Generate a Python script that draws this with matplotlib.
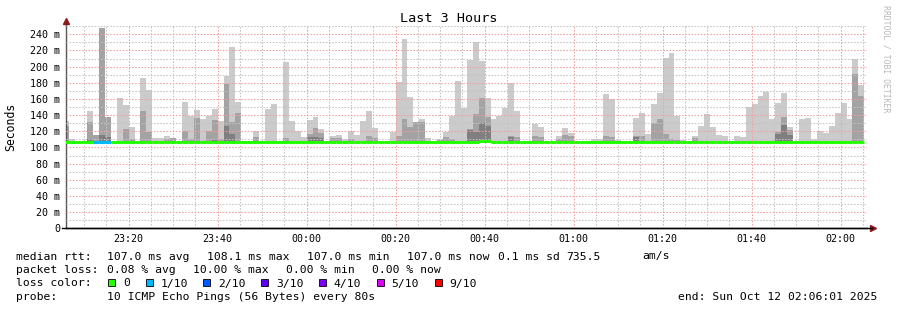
import numpy as np
import matplotlib
matplotlib.use('Agg')
import matplotlib.pyplot as plt
from matplotlib.patches import Rectangle

plt.rcParams['font.family'] = 'DejaVu Sans Mono'

# smokeping data, one value per 80 s step (ms), starting 23:06:01
light = [133, 110.5, 107, 107, 145, 115.5, 248, 137.3, 107, 161,
         152.6, 125.4, 107, 186, 171, 111.7, 111.7, 114, 111.7, 107,
         156, 139, 146.4, 135, 139, 147.6, 132.8, 188.5, 224.3, 156,
         107, 107, 120.4, 107, 147.6, 153.8, 107, 205.8, 132.8, 120.4,
         113, 134, 137.7, 123, 107, 114, 115.5, 110.5, 120.4, 115.5,
         132.8, 145, 124, 107, 107, 119.2, 181, 234.2, 162.5, 131.5,
         135, 111.7, 107, 110.5, 119.2, 139, 182.3, 149, 208, 230.5,
         207, 161.2, 135.3, 139, 148.9, 179.8, 145, 107, 107, 129,
         125.4, 107, 107, 114, 124, 118, 107, 107, 107, 110,
         110, 166.2, 160, 109, 107, 107, 136.5, 142.7, 116.7, 153.8,
         167.4, 210.7, 216.9, 139, 109, 107, 114, 126.6, 141.4, 125.4,
         115.5, 114, 107, 114, 113, 150, 153.8, 163.7, 168.7, 135.3,
         155, 167.4, 125.4, 107, 135.3, 136.5, 110.5, 120.4, 118, 126.6,
         142.7, 155, 135.3, 209.5, 177.3]
mid = [127, 108, 107, 107, 131.5, 115.5, 248, 137.3, 107, 107,
       123, 110, 107, 145, 119, 107, 107, 110, 111.7, 107,
       120, 110, 136, 107, 120, 134, 110, 179, 131.5, 142.7,
       107, 107, 113, 107, 107, 107, 107, 111.7, 107, 107,
       107, 116.7, 124, 118, 107, 111.7, 111.7, 107, 110, 107,
       107, 114, 111.7, 107, 107, 107, 114, 135.3, 125.4, 131.5,
       131.5, 107, 107, 109, 113, 110, 107, 107, 123, 141.4,
       161.2, 137.7, 107, 107, 107, 114, 113, 107, 107, 114,
       113, 107, 107, 111, 115.5, 114, 107, 107, 107, 107,
       107, 114, 113, 107, 107, 107, 114, 114, 107, 130.3,
       135.3, 116.7, 110.5, 109, 107, 107, 111.7, 108, 108, 107,
       107, 107, 107, 107, 107, 107, 107, 107, 107, 107,
       119.2, 137.7, 122, 107, 107, 107, 107, 107, 107, 107,
       107, 107, 107, 191, 163.7]
dark = [107, 107, 107, 107, 111, 107, 115, 113, 107, 107,
        107, 107, 107, 107, 107, 107, 107, 107, 107, 107,
        107, 107, 107, 107, 107, 109, 107, 126.6, 116.7, 107,
        107, 107, 107, 107, 107, 107, 107, 107, 107, 107,
        107, 113, 113, 111.7, 107, 107, 107, 107, 107, 107,
        107, 107, 107, 107, 107, 107, 107, 107, 107, 107,
        107, 107, 107, 107, 107, 107, 107, 107, 121.6, 119.2,
        130.3, 126.6, 107, 107, 107, 113, 107, 107, 107, 107,
        107, 107, 107, 107, 107, 107, 107, 107, 107, 107,
        107, 107, 107, 107, 107, 107, 113, 107, 107, 107,
        107, 107, 107, 107, 107, 107, 107, 107, 107, 107,
        107, 107, 107, 107, 107, 107, 107, 107, 107, 107,
        116.7, 127.8, 115.5, 107, 107, 107, 107, 107, 107, 107,
        107, 107, 107, 107, 107]
median = [107.0, 107.0, 107.0, 107.0, 107.0, 107.0, 107.0, 107.0, 107.0, 107.0,
          107.0, 107.0, 107.0, 107.0, 107.0, 107.0, 107.0, 107.0, 107.0, 107.0,
          107.0, 107.0, 107.0, 107.0, 107.0, 107.0, 107.0, 107.0, 107.0, 107.0,
          107.0, 107.0, 107.0, 107.0, 107.0, 107.0, 107.0, 107.0, 107.0, 107.0,
          107.0, 107.0, 107.0, 107.0, 107.0, 107.0, 107.0, 107.0, 107.0, 107.0,
          107.0, 107.0, 107.0, 107.0, 107.0, 107.0, 107.0, 107.0, 107.0, 107.0,
          107.0, 107.0, 107.0, 107.0, 107.0, 107.0, 107.0, 107.0, 107.0, 107.0,
          108.1, 108.1, 107.0, 107.0, 107.0, 107.0, 107.0, 107.0, 107.0, 107.0,
          107.0, 107.0, 107.0, 107.0, 107.0, 107.0, 107.0, 107.0, 107.0, 107.0,
          107.0, 107.0, 107.0, 107.0, 107.0, 107.0, 107.0, 107.0, 107.0, 107.0,
          107.0, 107.0, 107.0, 107.0, 107.0, 107.0, 107.0, 107.0, 107.0, 107.0,
          107.0, 107.0, 107.0, 107.0, 107.0, 107.0, 107.0, 107.0, 107.0, 107.0,
          107.0, 107.0, 107.0, 107.0, 107.0, 107.0, 107.0, 107.0, 107.0, 107.0,
          107.0, 107.0, 107.0, 107.0, 107.0]
loss = [0, 0, 0, 0, 0, 1, 1, 1] + [0] * 127

time_labels = ['23:20', '23:40', '00:00', '00:20', '00:40', '01:00', '01:20', '01:40', '02:00']
loss_labels = ['0', '1/10', '2/10', '3/10', '4/10', '5/10', '9/10']
loss_colors = ['#26ff00', '#00b8ff', '#0059ff', '#5e00ff', '#7e00ff', '#dd00ff', '#ff0000']
loss_index = [0, 1, 2, 3, 4, 5, 9]

rtt_stats = ['median rtt:', '107.0 ms avg', '108.1 ms max', '107.0 ms min',
             '107.0 ms now', '0.1 ms sd', '735.5', 'am/s']
pl_stats = ['packet loss:', '0.08 % avg', '10.00 % max', '0.00 % min', '0.00 % now']
probe_text = '10 ICMP Echo Pings (56 Bytes) every 80s'
end_text = 'end: Sun Oct 12 02:06:01 2025'

W, H = 897, 310
def fx(px):
    return px / W
def fy(py):
    return 1 - py / H

step = 80 / 60.
t0 = 6 + 1 / 60.          # minutes after 23:00
centers = t0 + np.arange(len(light)) * step

fig = plt.figure(figsize=(W / 100, H / 100), dpi=100)
ax = fig.add_axes([fx(66.3), fy(228.3), 801 / W, 202.1 / H])

# smoke
for vals, col in ((light, '#cbcbcb'), (mid, '#a3a3a3'), (dark, '#7f7f7f')):
    v = np.array(vals)
    ax.bar(centers, v - 106, bottom=106, width=step, color=col,
           linewidth=0, align='center', zorder=1)

# median line coloured by loss
cmap = dict(zip(loss_index, loss_colors))
ax.hlines(median, centers - step / 2, centers + step / 2,
          colors=[cmap[l] for l in loss], linewidth=2.2, zorder=4)

ax.set_xlim(t0, t0 + 180)
ax.set_ylim(0, 250)

maj_x = np.arange(20, 181, 20)
ax.set_xticks(maj_x)
ax.set_xticklabels(time_labels)
ax.set_xticks([m for m in np.arange(10, 186, 5) if m % 20 != 0], minor=True)
ax.set_yticks(np.arange(0, 241, 20))
ax.set_yticklabels(['0'] + ['%d m' % v for v in range(20, 241, 20)])
ax.set_yticks(np.arange(10, 251, 20), minor=True)

ax.set_axisbelow(False)
ax.grid(True, which='major', color='#f0a0a0', linestyle=(0, (1.5, 1.5)), linewidth=0.75)
ax.grid(True, which='minor', color='#c4c4c4', linestyle=(0, (1.5, 1.5)), linewidth=0.75)
ax.tick_params(which='both', length=0, labelsize=7.2)
ax.tick_params(axis='y', pad=4.5)
ax.tick_params(axis='x', pad=4)

for s in ('top', 'right'):
    ax.spines[s].set_visible(False)
ax.spines['left'].set_color('#555555')
ax.spines['left'].set_linewidth(1)
ax.spines['bottom'].set_color('black')
ax.spines['bottom'].set_linewidth(1)

# axis extensions + arrows
ax.plot([t0, t0], [250, 255], color='#555555', lw=1, clip_on=False)
ax.plot([t0 - 0.9, t0 + 181], [0, 0], color='black', lw=1, clip_on=False, zorder=5)
ax.plot([t0], [256], marker='^', color='#8b1a1a', markersize=4.5, clip_on=False)
ax.plot([t0 + 181.2], [0], marker='>', color='#8b1a1a', markersize=4.5, clip_on=False)

fig.text(fx(449), fy(19), 'Last 3 Hours', ha='center', va='center', fontsize=9.7)
fig.text(fx(11), fy(127), 'Seconds', rotation=90, ha='center', va='center', fontsize=8.3)
fig.text(fx(886), fy(5), 'RRDTOOL / TOBI OETIKER', rotation=-90, ha='center', va='top',
         fontsize=5.9, color='#b8b8b8')

lf = 8.2
for x, s in zip([16, 107.3, 207.3, 307.3, 407.3, 498, 566, 642.7], rtt_stats):
    fig.text(fx(x), fy(259.5), s, ha='left', va='baseline', fontsize=lf)
for x, s in zip([16, 107.3, 193.3, 286, 371.7], pl_stats):
    fig.text(fx(x), fy(273), s, ha='left', va='baseline', fontsize=lf)
fig.text(fx(16), fy(286.5), 'loss color:', ha='left', va='baseline', fontsize=lf)
for x, lab, c in zip([108.3, 146, 203.3, 261.3, 318.7, 376.7, 435], loss_labels, loss_colors):
    fig.add_artist(Rectangle((fx(x), fy(286)), 7 / W, 7 / H, facecolor=c,
                             edgecolor='black', linewidth=0.6, transform=fig.transFigure))
    fig.text(fx(x + 14.5), fy(286.5), lab, ha='left', va='baseline', fontsize=lf)
fig.text(fx(16), fy(300), 'probe:', ha='left', va='baseline', fontsize=lf)
fig.text(fx(107.3), fy(300), probe_text, ha='left', va='baseline', fontsize=lf)
fig.text(fx(678), fy(300), end_text, ha='left', va='baseline', fontsize=lf)

fig.savefig('out.png', dpi=100)
plt.close(fig)
